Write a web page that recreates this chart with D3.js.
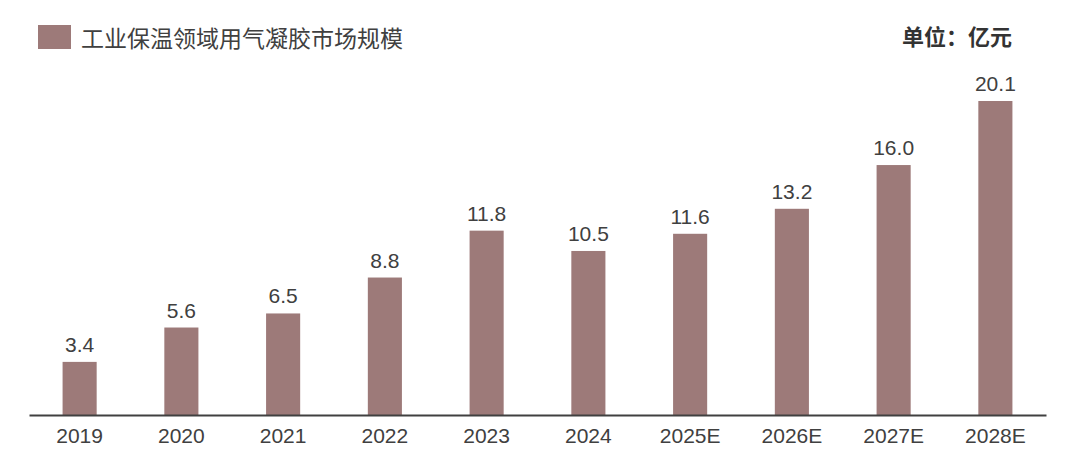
<!DOCTYPE html>
<html>
<head>
<meta charset="utf-8">
<script src="https://cdn.jsdelivr.net/npm/d3@7"></script>
<style>
  body { margin: 0; background: #fff; }
  svg { display: block; }
  .valText { font-family: "Liberation Sans", "Noto Sans CJK SC", sans-serif; font-size: 21px; fill: #404040; text-anchor: middle; }
  .tickText { font-family: "Liberation Sans", "Noto Sans CJK SC", sans-serif; font-size: 21px; fill: #404040; }
</style>
</head>
<body>
<div id="chart"></div>
<script>
// chart data
var years = ["2019", "2020", "2021", "2022", "2023", "2024", "2025E", "2026E", "2027E", "2028E"];
var values = [3.4, 5.6, 6.5, 8.8, 11.8, 10.5, 11.6, 13.2, 16.0, 20.1];
var seriesName = "工业保温领域用气凝胶市场规模";
var unitText = "单位：亿元";

var svgWidth = 1080;
var svgHeight = 463;
var barColor = "#9d7a79";

var svg = d3.select("#chart")
  .append("svg")
  .attr("width", svgWidth)
  .attr("height", svgHeight);

// scales
var xScale = d3.scaleBand()
  .domain(years)
  .range([29, 1046])
  .paddingInner(0.665)
  .paddingOuter(0.33);

var yScale = d3.scaleLinear()
  .domain([0, 20.1])
  .range([415, 101]);

// bars
svg.selectAll("rect.bar")
  .data(values)
  .enter()
  .append("rect")
  .attr("class", "bar")
  .attr("x", (d, i) => xScale(years[i]))
  .attr("y", d => yScale(d))
  .attr("width", xScale.bandwidth())
  .attr("height", d => yScale(0) - yScale(d))
  .attr("fill", barColor);

// value labels
svg.selectAll("text.valText")
  .data(values)
  .enter()
  .append("text")
  .attr("class", "valText")
  .attr("x", (d, i) => xScale(years[i]) + xScale.bandwidth() / 2)
  .attr("y", d => yScale(d) - 10)
  .text(d => d.toFixed(1));

// x axis
var bottomAxis = d3.axisBottom(xScale).tickSize(0).tickPadding(13);
var axisG = svg.append("g")
  .attr("transform", `translate(0, ${yScale(0)})`)
  .call(bottomAxis);
axisG.select(".domain").attr("stroke", "#404040").attr("stroke-width", 2);
axisG.selectAll(".tick text")
  .attr("class", "tickText")
  .attr("dy", "0.71em");

// legend
svg.append("rect")
  .attr("x", 38)
  .attr("y", 25)
  .attr("width", 33)
  .attr("height", 24)
  .attr("fill", barColor);

svg.append("text")
  .attr("x", 81)
  .attr("y", 37)
  .attr("dominant-baseline", "central")
  .style("font-family", "'Noto Sans CJK SC', sans-serif")
  .style("font-size", "23px")
  .style("fill", "#404040")
  .text(seriesName);

// unit
svg.append("text")
  .attr("x", 1012)
  .attr("y", 35)
  .attr("text-anchor", "end")
  .attr("dominant-baseline", "central")
  .style("font-family", "'Noto Sans CJK SC', sans-serif")
  .style("font-size", "22px")
  .style("font-weight", "bold")
  .style("fill", "#333")
  .text(unitText);
</script>
</body>
</html>
